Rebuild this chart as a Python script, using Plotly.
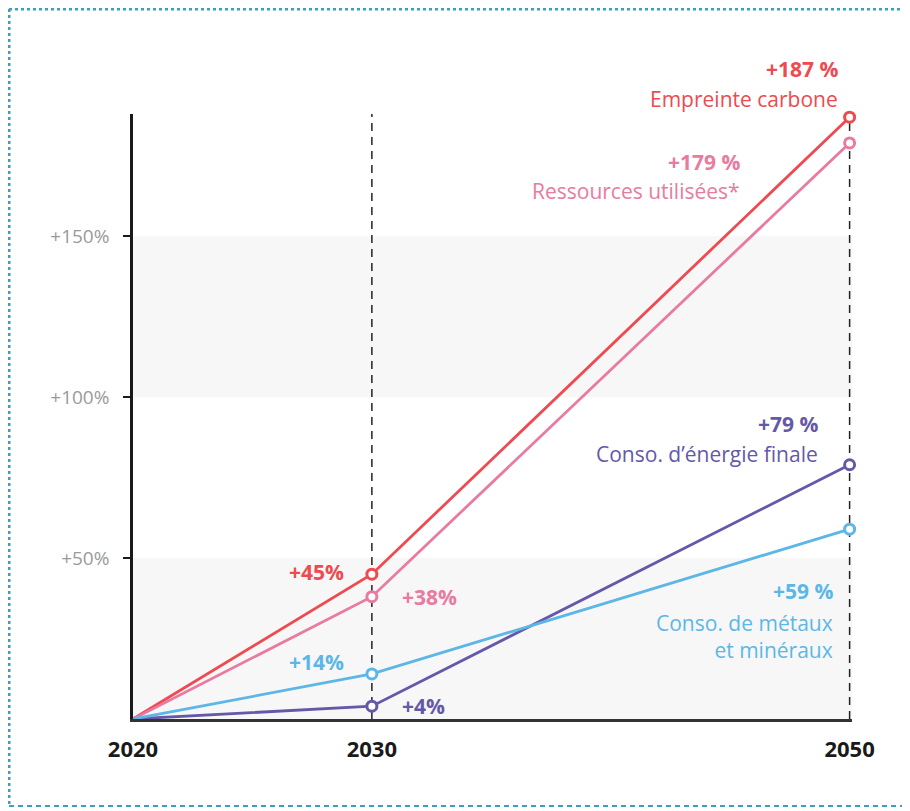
import plotly.graph_objects as go

years = [2020, 2030, 2050]
series_names = ["Empreinte carbone", "Ressources utilisées*", "Conso. d’énergie finale", "Conso. de métaux<br>et minéraux"]
carbone = [0, 45, 187]
ressources = [0, 38, 179]
energie = [0, 4, 79]
metaux = [0, 14, 59]
y_ticks = [50, 100, 150]
y_tick_labels = ["+50%", "+100%", "+150%"]
bands = [(0, 50), (100, 150)]

colors = ["#ee4a50", "#e97aa0", "#6558a8", "#5cb7e7"]
values = [carbone, ressources, energie, metaux]

W, H = 910, 811
OFF = 8  # page body margin
L, R, T, B = 133, 852, 114, 719


def px(x):
    return (x - L) / (R - L)


def py(y):
    return (B - y) / (B - T)


fig = go.Figure()
for name, vals, col in zip(series_names, values, colors):
    fig.add_trace(go.Scatter(
        x=years, y=vals, mode="lines", name=name,
        line=dict(color=col, width=2.8),
        cliponaxis=False, showlegend=False, hoverinfo="skip"))
for name, vals, col in zip(series_names, values, colors):
    fig.add_trace(go.Scatter(
        x=years[1:], y=vals[1:], mode="markers", name=name,
        marker=dict(size=10, color="white", opacity=1, line=dict(color=col, width=3)),
        cliponaxis=False, showlegend=False, hoverinfo="skip"))

shapes = []
for y0, y1 in bands:
    shapes.append(dict(type="rect", xref="paper", yref="y", x0=0, x1=1, y0=y0, y1=y1,
                       fillcolor="#f7f7f7", line=dict(width=0), layer="below"))
for yr in years[1:]:
    shapes.append(dict(type="line", xref="x", yref="paper", x0=yr, x1=yr, y0=0, y1=1,
                       line=dict(color="#222", width=1.5, dash="8px,6px"), layer="below"))

border_col = "#3a9fc2"
bl, br, bt, bb = 9, 905, 9, 806
shapes += [
    dict(type="line", xref="paper", yref="paper", x0=px(bl), x1=px(br), y0=py(bt), y1=py(bt),
         line=dict(color=border_col, width=3, dash="dot")),
    dict(type="line", xref="paper", yref="paper", x0=px(bl), x1=px(bl), y0=py(bt), y1=py(bb),
         line=dict(color=border_col, width=3, dash="dot")),
    dict(type="line", xref="paper", yref="paper", x0=px(br), x1=px(br), y0=py(bt), y1=py(bb),
         line=dict(color=border_col, width=3, dash="dot")),
    dict(type="line", xref="paper", yref="paper", x0=px(bl), x1=px(br), y0=py(bb), y1=py(bb),
         line=dict(color=border_col, width=2, dash="5px,4px")),
]

FONT = "Open Sans"
ann = []


def add(text, x, y, col, anchor="right", bold=False, size=21):
    t = f"<b>{text}</b>" if bold else text
    ann.append(dict(text=t, xref="paper", yref="paper", x=px(x), y=py(y),
                    xanchor=anchor, yanchor="middle", align=anchor, showarrow=False,
                    font=dict(family=FONT, size=size, color=col)))


# end labels
add(f"+{carbone[2]} %", 840, 69, colors[0], bold=True)
add(series_names[0], 840, 99, colors[0])
add(f"+{ressources[2]} %", 742, 162, colors[1], bold=True)
add(series_names[1], 742, 191, colors[1])
add(f"+{energie[2]} %", 820, 424, colors[2], bold=True)
add(series_names[2], 820, 454, colors[2])
add(f"+{metaux[2]} %", 835, 591, colors[3], bold=True)
add(series_names[3], 835, 636, colors[3])
# 2030 labels
add(f"+{carbone[1]}%", 346, 572, colors[0], bold=True)
add(f"+{ressources[1]}%", 400, 597, colors[1], anchor="left", bold=True)
add(f"+{metaux[1]}%", 346, 662, colors[3], bold=True)
add(f"+{energie[1]}%", 400, 706, colors[2], anchor="left", bold=True)

fig.update_layout(
    width=W - OFF, height=H - OFF,
    margin=dict(l=L - OFF, r=W - R, t=T - OFF, b=H - B),
    paper_bgcolor="white", plot_bgcolor="white",
    shapes=shapes, annotations=ann,
    xaxis=dict(range=[2020, 2050.1], tickvals=years, ticktext=[str(y) for y in years],
               showgrid=False, zeroline=False, showline=True, linecolor="#333", linewidth=3,
               ticks="", ticklabelstandoff=9,
               tickfont=dict(family=FONT, size=22, color="#1a1a1a", weight="bold")),
    yaxis=dict(range=[0, 188], tickvals=y_ticks, ticktext=y_tick_labels,
               showgrid=False, zeroline=False, showline=True, linecolor="#1a1a1a", linewidth=2.5,
               ticks="outside", ticklen=7, tickwidth=2, tickcolor="#1a1a1a",
               tickfont=dict(family=FONT, size=19, color="#9a9a9a"), ticklabelstandoff=10),
)

fig.write_html("out.html")
